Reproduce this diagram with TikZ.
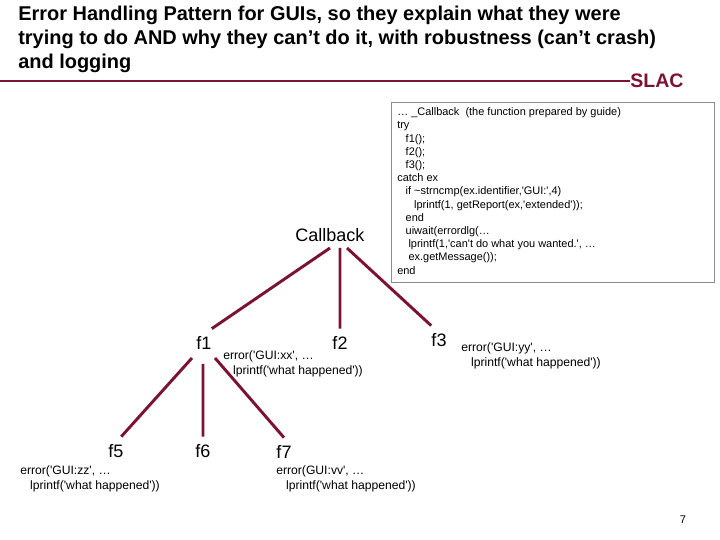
\documentclass[tikz,border=0pt]{standalone}
\usepackage{fontspec}
\usepackage{xcolor}
\usepackage{tikz}
\setmainfont{Liberation Sans}
\newfontfamily\codefont{Liberation Sans}
\definecolor{slacred}{RGB}{122,20,50}
\definecolor{boxgray}{RGB}{140,140,140}

\begin{document}
\begin{tikzpicture}
	\useasboundingbox (0,0) rectangle (18,13.5);
	\tikzstyle{title}=[anchor=west,align=left,inner sep=0,font=\fontsize{14.2}{17}\selectfont\bfseries];
	\tikzstyle{logo}=[inner sep=0,text=slacred,font=\fontsize{13.9}{15}\selectfont\bfseries];
	\tikzstyle{func}=[inner sep=0,minimum height=20pt,font=\fontsize{12.8}{15}\selectfont];
	\tikzstyle{note}=[anchor=west,align=left,inner sep=0,font=\fontsize{8.65}{10.7}\selectfont\codefont];
	\tikzstyle{code}=[anchor=west,align=left,inner sep=0,font=\fontsize{7.8}{9.4}\selectfont\codefont];
	\tikzstyle{link}=[draw=slacred,line width=2.1pt];
	\node[title] (head) at (0.45,12.525) {Error Handling Pattern for GUIs, so they explain what they were\\trying to do AND why they can’t do it, with robustness (can’t crash)\\and logging};
	\node[logo] (slac) at (16.425,11.475) {SLAC};
	\coordinate (rulestart) at (0,11.475);
	\draw[slacred,line width=0.8pt] (rulestart)--(slac);
	\node[draw=boxgray,line width=0.7pt,minimum width=8.075cm,minimum height=4.5cm,anchor=north west] (codebox) at (9.775,10.95) {};
	\node[code] (codetext) at (9.925,8.725) {… \_Callback\ \ (the function prepared by guide)\\try\\\hspace*{6pt}f1();\\\hspace*{6pt}f2();\\\hspace*{6pt}f3();\\catch ex\\\hspace*{6pt}if \textasciitilde strncmp(ex.identifier,'GUI:',4)\\\hspace*{12pt}lprintf(1, getReport(ex,'extended'));\\\hspace*{6pt}end\\\hspace*{6pt}uiwait(errordlg(…\\\hspace*{8pt}lprintf(1,'can't do what you wanted.', …\\\hspace*{8pt}ex.getMessage());\\end};
	\node[func] (cb) at (8.25,7.625) {Callback};
	\node[func] (f1) at (5.1,4.925) {f1};
	\node[func] (f2) at (8.5,4.925) {f2};
	\node[func] (f3) at (10.975,5) {f3};
	\node[func] (f5) at (2.9,2.225) {f5};
	\node[func] (f6) at (5.075,2.225) {f6};
	\node[func] (f7) at (7.1,2.2) {f7};
	\node[note] (nxx) at (5.575,4.413) {error('GUI:xx', …\\\hspace*{7pt}lprintf('what happened'))};
	\node[note] (nyy) at (11.525,4.6) {error('GUI:yy', …\\\hspace*{7pt}lprintf('what happened'))};
	\node[note] (nzz) at (0.5,1.538) {error('GUI:zz', …\\\hspace*{7pt}lprintf('what happened'))};
	\node[note] (nvv) at (6.9,1.525) {error(GUI:vv', …\\\hspace*{7pt}lprintf('what happened'))};
	\node[right=1.2pt,inner sep=0,font=\fontsize{7.9}{9.45}\selectfont\codefont] (pageno) at (16.95,0.5) {7};
	\coordinate (cbl) at (8.25,7.3);
	\coordinate (cbm) at (8.5,7.3);
	\coordinate (cbr) at (8.675,7.3);
	\coordinate (fl) at (4.8,4.55);
	\coordinate (fm) at (5.075,4.4);
	\coordinate (fr) at (5.375,4.55);
	\draw[link] (cbl)--(f1.north east) (cbm)--(f2.north) (cbr)--(f3.north west);
	\draw[link] (fl)--(f5.70) (fm)--(f6.north) (fr)--(f7.north);
\end{tikzpicture}
\end{document}
